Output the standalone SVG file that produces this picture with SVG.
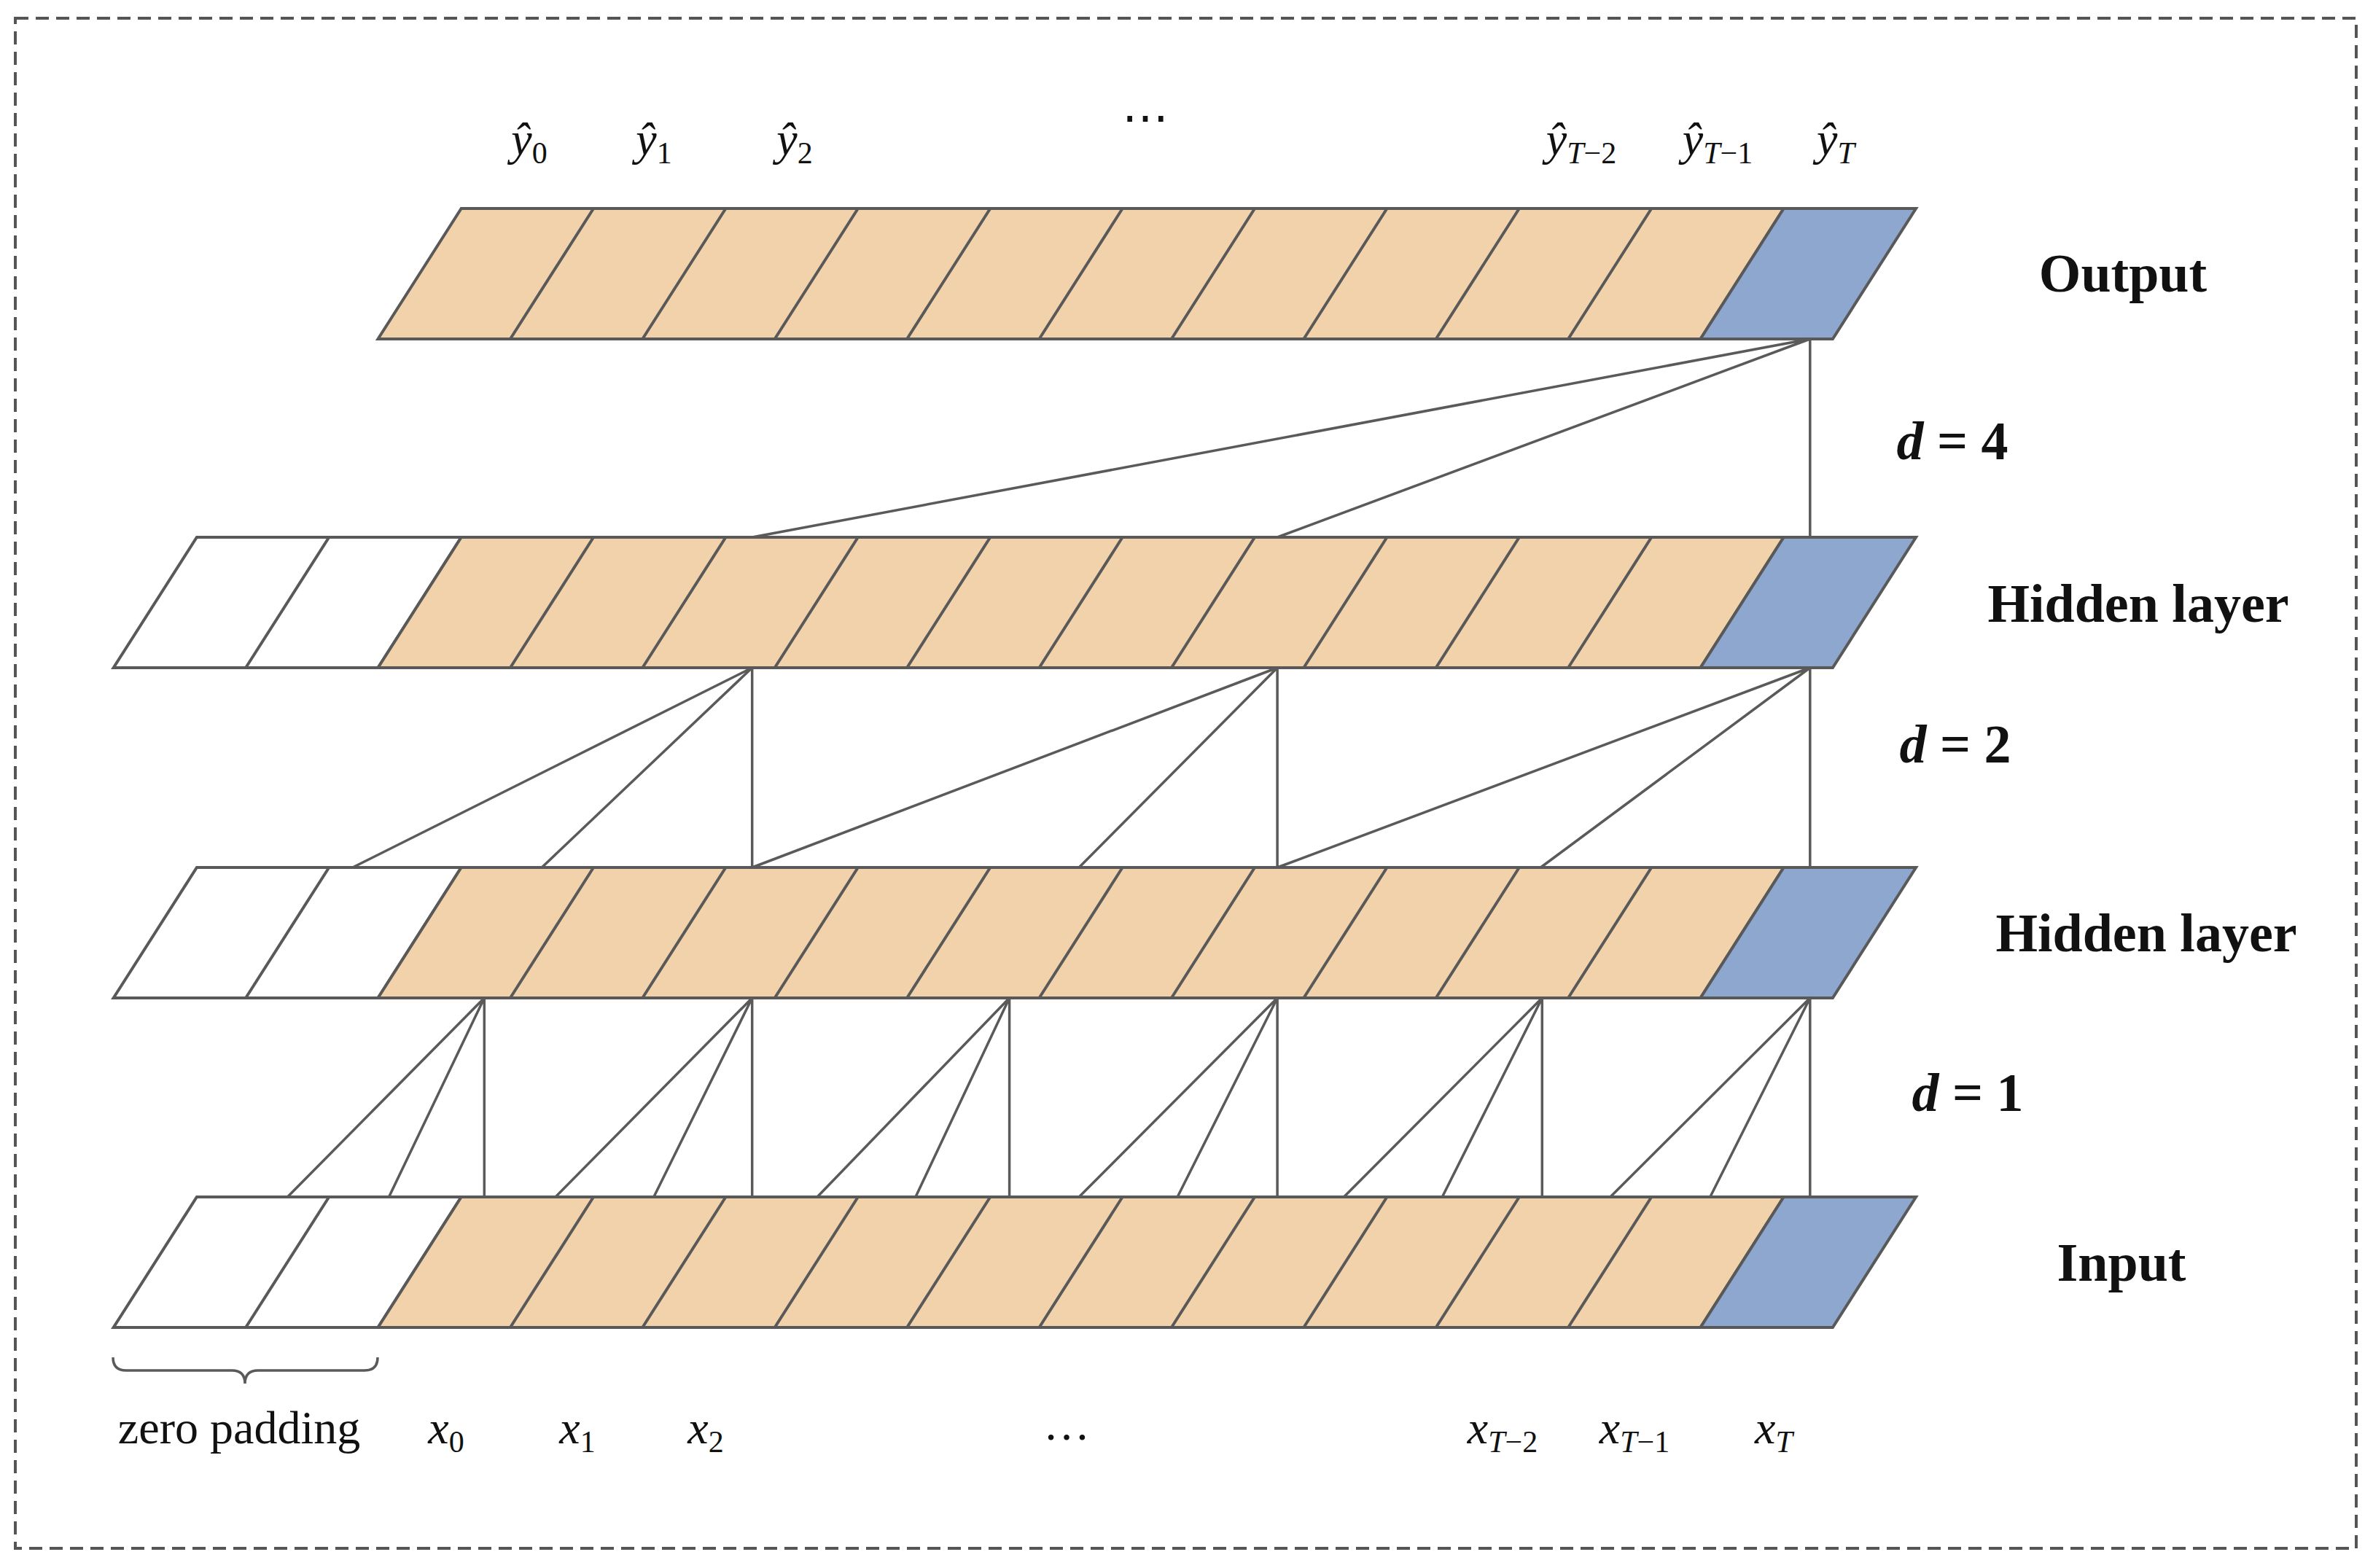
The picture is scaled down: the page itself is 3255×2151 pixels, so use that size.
<svg xmlns="http://www.w3.org/2000/svg" width="3255" height="2151" viewBox="0 0 3255 2151">
<style>
.ln{stroke:#595959;stroke-width:4;fill:none}
.c{stroke:#5a5a5a;stroke-width:3.5;fill:none}
.tan{fill:#F2D2AA;stroke:#595959;stroke-width:4}
.blue{fill:#8EA7CE;stroke:#595959;stroke-width:4}
.wh{fill:#fff;stroke:#595959;stroke-width:4}
.m{font-family:"Liberation Serif",serif;font-style:italic;font-size:64px;text-anchor:middle;fill:#111}
.s{font-size:42px;font-style:normal}
.si{font-size:42px}
.lab{font-family:"Liberation Serif",serif;font-weight:bold;font-size:74px;text-anchor:middle;fill:#111}
.n{font-family:"Liberation Serif",serif;font-size:64px;text-anchor:middle;fill:#111}
</style>
<defs>
<g id="pad">
<polygon class="wh" points="155.7,179 518.5,179 632.7,0 269.9,0"/>
<line class="ln" x1="337.1" y1="179" x2="451.3" y2="0"/>
</g>
<g id="cells">
<polygon class="tan" points="518.5,179 2332.5,179 2446.7,0 632.7,0"/>
<polygon class="blue" points="2332.5,179 2513.9,179 2628.1,0 2446.7,0"/>
<path class="ln" d="M699.9,179L814.1,0M881.3,179L995.5,0M1062.7,179L1176.9,0M1244.1,179L1358.3,0M1425.5,179L1539.7,0M1606.9,179L1721.1,0M1788.3,179L1902.5,0M1969.7,179L2083.9,0M2151.1,179L2265.3,0"/>
</g>
</defs>
<rect x="21" y="25" width="3211" height="2099" fill="none" stroke="#555" stroke-width="4" stroke-dasharray="18,10"/>
<g id="output"><use href="#cells" transform="translate(0,286)"/></g>
<g id="hidden1"><use href="#pad" transform="translate(0,737)"/><use href="#cells" transform="translate(0,737)"/></g>
<g id="hidden2"><use href="#pad" transform="translate(0,1190)"/><use href="#cells" transform="translate(0,1190)"/></g>
<g id="input"><use href="#pad" transform="translate(0,1642)"/><use href="#cells" transform="translate(0,1642)"/></g>
<g id="connectors" class="c">
<path d="M2482.8,465V737M2482.8,465L1752.1,737M2482.8,465L1031.7,737"/>
<path d="M1031.7,916L483.7,1190M1031.7,916L743.2,1190M1031.7,916V1190M1752.1,916L1031.7,1190M1752.1,916L1480.1,1190M1752.1,916V1190M2482.8,916L1752.1,1190M2482.8,916L2113.3,1190M2482.8,916V1190"/>
<path d="M664.3,1369V1642M664.3,1369L394.4,1642M664.3,1369L533.5,1642M1031.7,1369V1642M1031.7,1369L761.9,1642M1031.7,1369L896.8,1642M1384.6,1369V1642M1384.6,1369L1121,1642M1384.6,1369L1255.9,1642M1752.1,1369V1642M1752.1,1369L1480.1,1642M1752.1,1369L1615.1,1642M2115.3,1369V1642M2115.3,1369L1843.4,1642M2115.3,1369L1978.3,1642M2482.8,1369V1642M2482.8,1369L2208.8,1642M2482.8,1369L2345.8,1642"/>
</g>
<g id="ylabels">
<text class="m" x="726" y="212">ŷ<tspan class="s" dy="12">0</tspan></text>
<text class="m" x="897" y="212">ŷ<tspan class="s" dy="12">1</tspan></text>
<text class="m" x="1090" y="212">ŷ<tspan class="s" dy="12">2</tspan></text>
<text class="n" x="1571" y="183">⋯</text>
<text class="m" x="2169" y="212">ŷ<tspan class="si" dy="12">T</tspan><tspan class="s">−2</tspan></text>
<text class="m" x="2356" y="212">ŷ<tspan class="si" dy="12">T</tspan><tspan class="s">−1</tspan></text>
<text class="m" x="2518" y="212">ŷ<tspan class="si" dy="12">T</tspan></text>
</g>
<g id="labels">
<text class="lab" x="2912" y="400">Output</text>
<text class="lab" x="2678" y="630"><tspan font-style="italic">d</tspan> = 4</text>
<text class="lab" x="2933" y="853">Hidden layer</text>
<text class="lab" x="2682" y="1046"><tspan font-style="italic">d</tspan> = 2</text>
<text class="lab" x="2944" y="1305">Hidden layer</text>
<text class="lab" x="2699" y="1524"><tspan font-style="italic">d</tspan> = 1</text>
<text class="lab" x="2910" y="1757">Input</text>
</g>
<g id="xlabels">
<path class="c" stroke-width="3" d="M155,1862q0,18 18,18H318q18,0 18,18q0,-18 18,-18H500q18,0 18,-18"/>
<text class="n" x="328" y="1980">zero padding</text>
<text class="m" x="612" y="1980">x<tspan class="s" dy="12">0</tspan></text>
<text class="m" x="792" y="1980">x<tspan class="s" dy="12">1</tspan></text>
<text class="m" x="968" y="1980">x<tspan class="s" dy="12">2</tspan></text>
<text class="n" x="1463" y="1975" font-size="40">…</text>
<text class="m" x="2061" y="1980">x<tspan class="si" dy="12">T</tspan><tspan class="s">−2</tspan></text>
<text class="m" x="2242" y="1980">x<tspan class="si" dy="12">T</tspan><tspan class="s">−1</tspan></text>
<text class="m" x="2433" y="1980">x<tspan class="si" dy="12">T</tspan></text>
</g>
</svg>
